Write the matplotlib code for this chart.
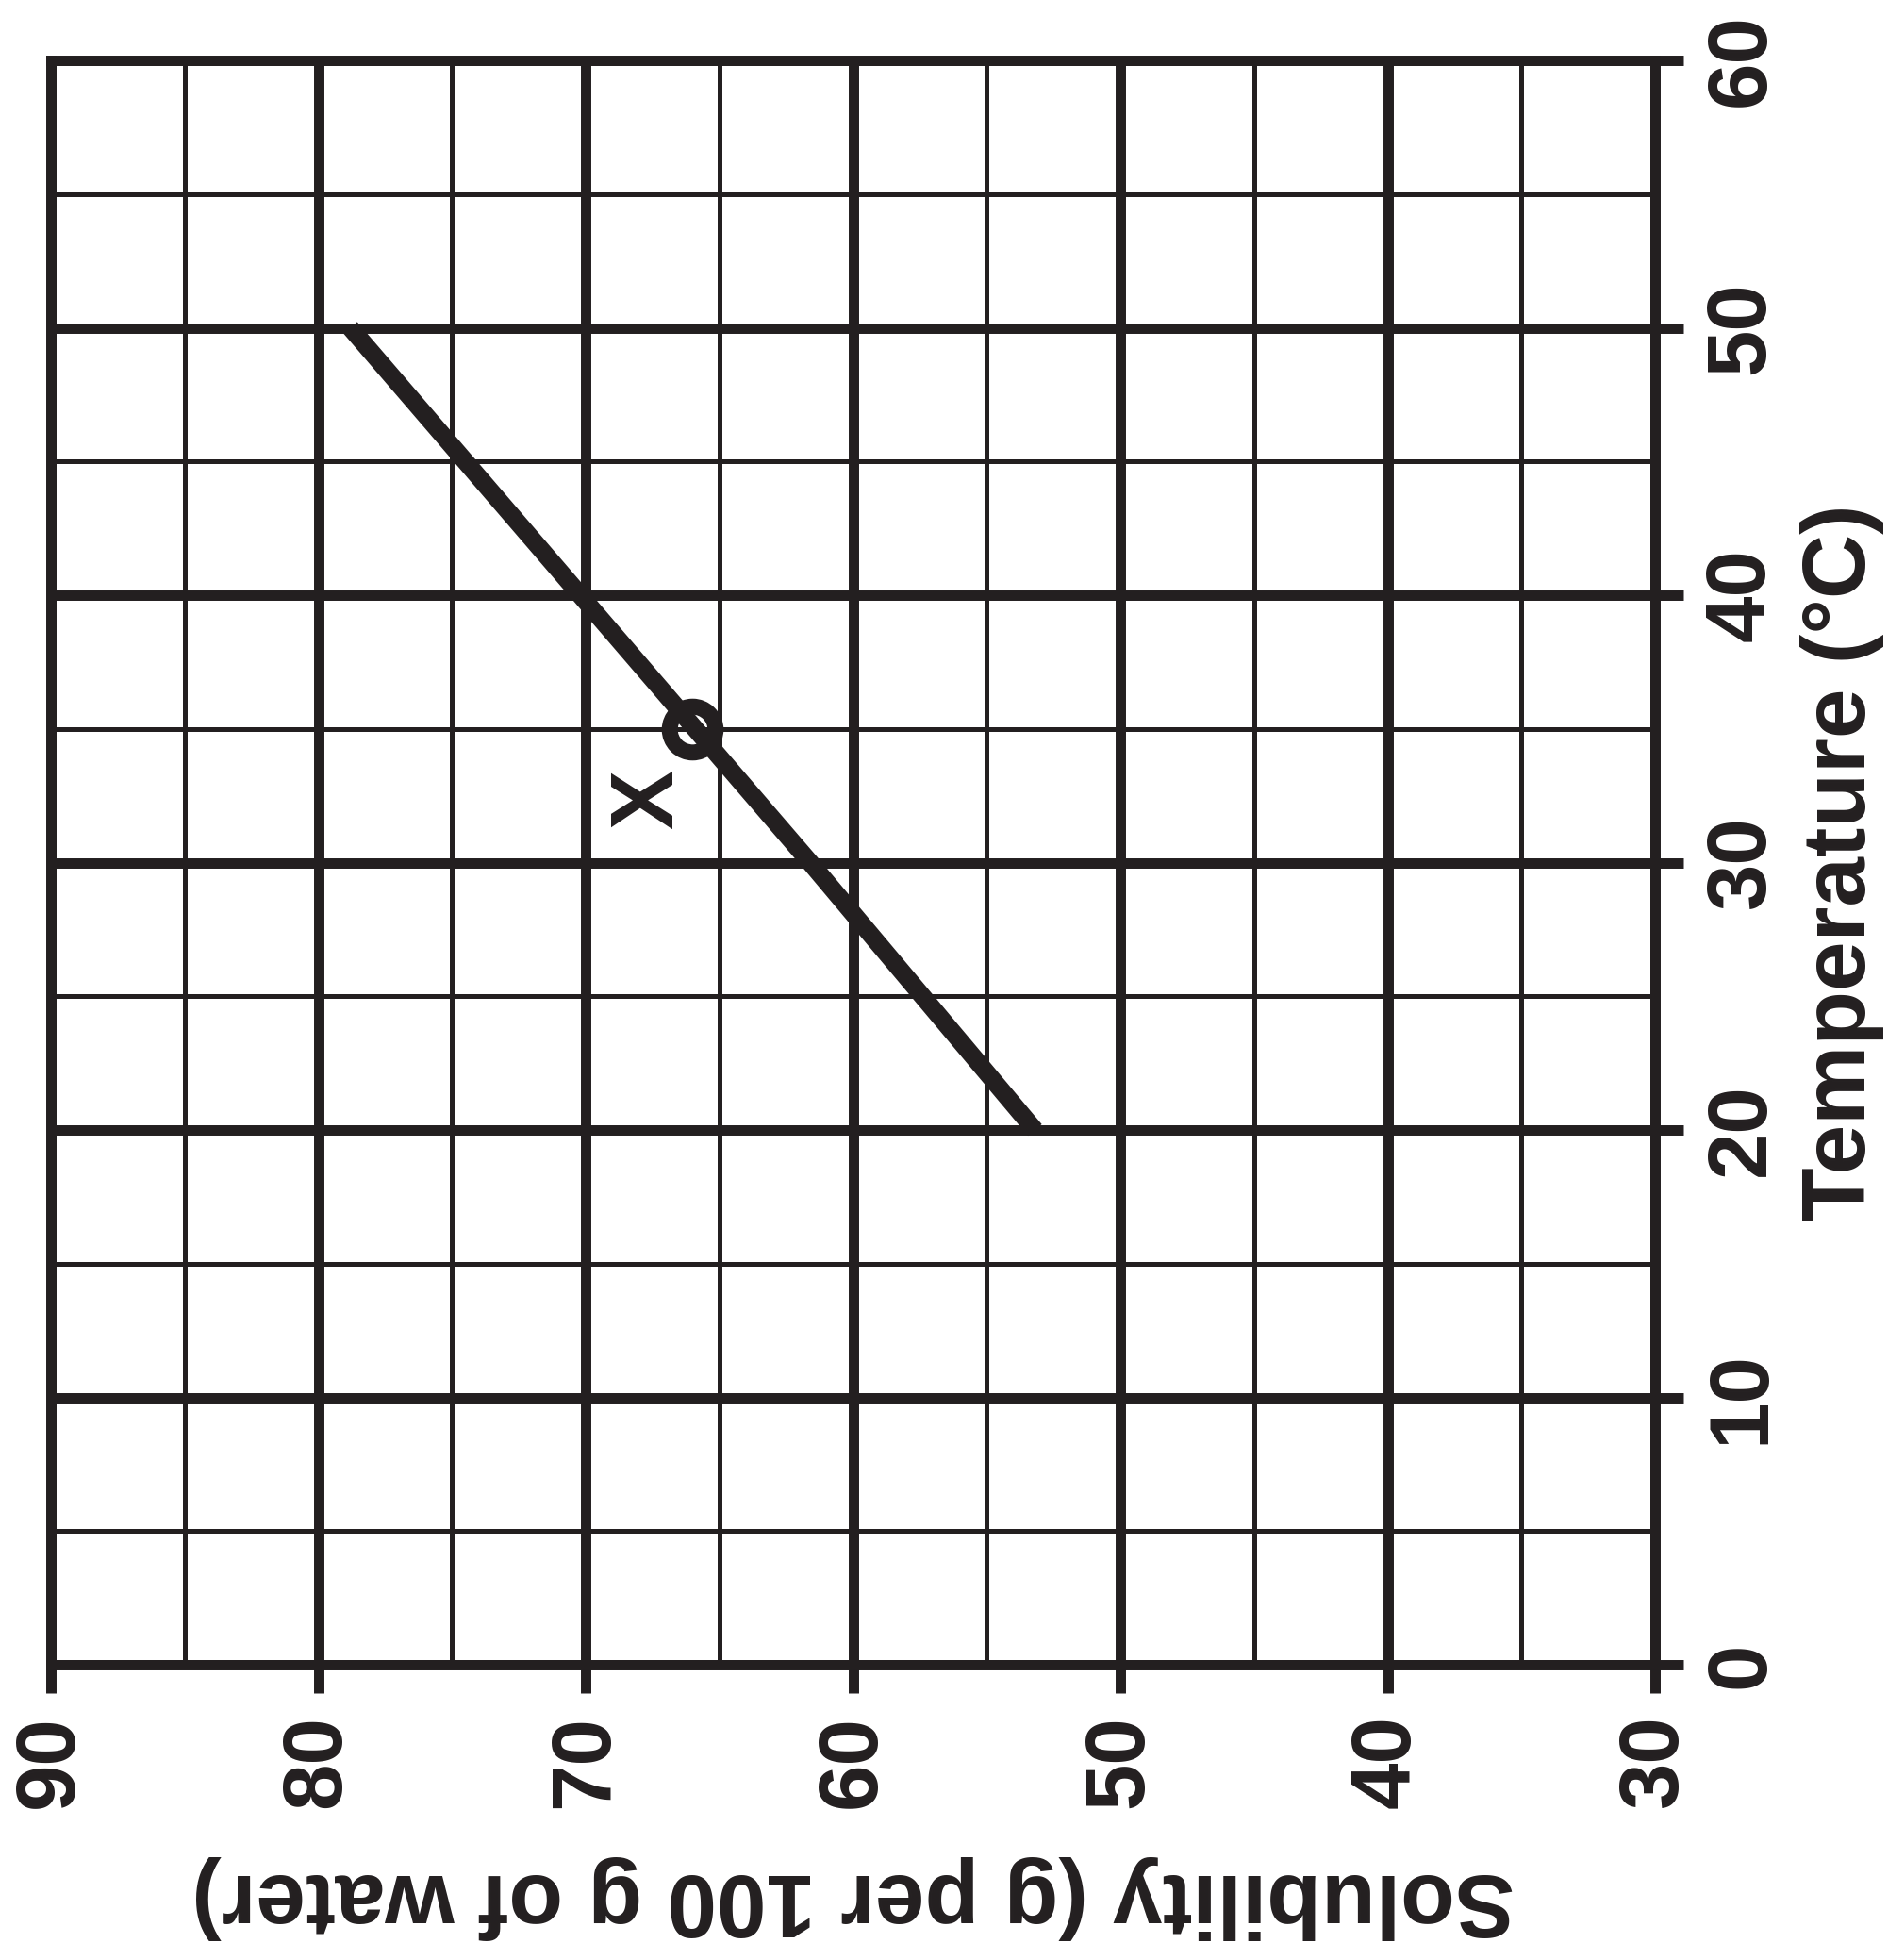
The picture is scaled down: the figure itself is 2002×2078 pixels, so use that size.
import numpy as np
import matplotlib
matplotlib.use('Agg')
import matplotlib.pyplot as plt
from matplotlib.ticker import MultipleLocator

##################################### Data #####################################

# Solubility curve
temp_c = [20, 30, 40, 50]
solubility = [53.2, 61.6, 70.2, 78.8]

# Marked point X
point_temp = [35]
point_sol = [66.0]

sol_ticks = [90, 80, 70, 60, 50, 40, 30]
temp_ticks = [0, 10, 20, 30, 40, 50, 60]

##################################### Style ####################################

ink = '#231f20'
plt.rcParams['font.family'] = ['Liberation Sans', 'DejaVu Sans']

##################################### Plot #####################################

fig = plt.figure(figsize=(20.02, 20.78), dpi=100)
ax = fig.add_axes([0.02697, 0.1506, 0.8497, 0.8186])

ax.set_xlim(90, 30)
ax.set_ylim(0, 60)

ax.xaxis.set_major_locator(MultipleLocator(10))
ax.xaxis.set_minor_locator(MultipleLocator(5))
ax.yaxis.set_major_locator(MultipleLocator(10))
ax.yaxis.set_minor_locator(MultipleLocator(5))
ax.set_xticks(sol_ticks)
ax.set_yticks(temp_ticks)

ax.set_axisbelow(True)
ax.grid(which='major', color=ink, linewidth=7.9)
ax.grid(which='minor', color=ink, linewidth=3.6)

for s in ax.spines.values():
    s.set_color(ink)
    s.set_linewidth(7.9)

# ticks only bottom + right
ax.yaxis.tick_right()
ax.tick_params(which='major', direction='out', length=21.5, width=7.9, color=ink,
               bottom=True, right=True, left=False, top=False)
ax.tick_params(which='minor', length=0)
ax.tick_params(axis='x', which='major', pad=17, labelsize=64, labelcolor=ink, labelrotation=90)
ax.tick_params(axis='y', which='major', pad=15, labelsize=64, labelcolor=ink, labelrotation=90)
for lab in ax.get_xticklabels() + ax.get_yticklabels():
    lab.set_fontweight('bold')
for lab in ax.get_yticklabels():
    lab.set_verticalalignment('center')

# curve and point
ax.plot(solubility, temp_c, color=ink, linewidth=13.7, solid_capstyle='butt', zorder=3)
ax.plot(point_sol, point_temp, 'o', markersize=35, markerfacecolor='none',
        markeredgecolor=ink, markeredgewidth=12.2, zorder=4)
ax.text(67.6, 32.35, 'X', rotation=90, fontsize=68, fontweight='bold', color=ink,
        ha='center', va='center', zorder=4)

# axis labels (chart printed rotated)
ax.set_xlabel('Solubility (g per 100 g of water)', fontsize=68, fontweight='bold',
              color=ink, rotation=180, labelpad=36)
ax.yaxis.set_label_position('right')
ax.set_ylabel('Temperature (°C)', fontsize=68, fontweight='bold', color=ink,
              rotation=90, labelpad=14)

fig.savefig('out.png', dpi=100, facecolor='white')
